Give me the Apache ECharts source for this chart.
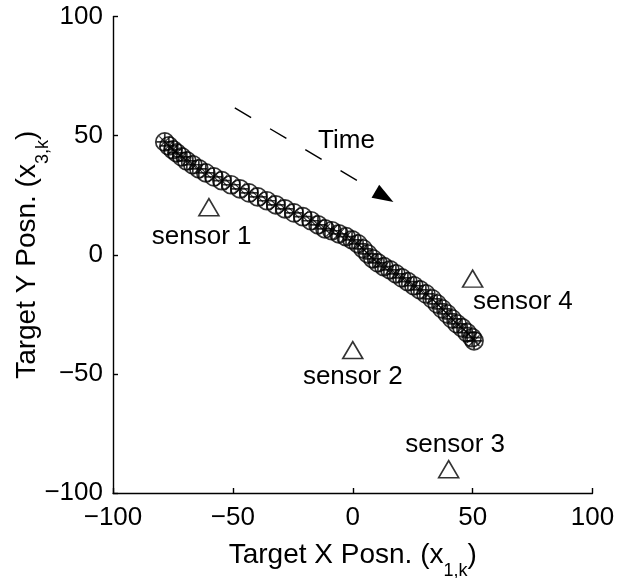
<!DOCTYPE html>
<html>
<head>
<meta charset="utf-8">
<script src="https://cdn.jsdelivr.net/npm/echarts@6/dist/echarts.min.js"></script>
<style>html,body{margin:0;padding:0;background:#fff}#c{width:636px;height:578px}</style>
</head>
<body>
<div id="c"></div>
<script>
// Target track (x1,k , x3,k)
const trackX = [-78.4,-76.7,-75.0,-73.4,-71.3,-69.2,-66.7,-64.2,-61.3,-57.9,-54.6,-50.8,-47.1,-43.3,-39.6,-35.8,-32.1,-28.3,-24.5,-20.8,-17.4,-14.5,-11.6,-8.7,-5.8,-2.8,-0.3,2.2,4.3,6.3,8.4,10.5,13.0,15.5,18.0,20.5,23.0,25.5,28.0,30.5,33.1,35.2,37.3,39.4,41.4,43.5,45.6,47.7,49.8,50.6];
const trackY = [47.4,45.7,44.1,42.8,41.1,39.4,37.8,36.1,34.4,32.7,31.1,29.4,27.7,26.0,24.3,22.7,21.0,19.3,17.6,16.0,14.3,12.6,10.9,10.1,8.8,7.6,6.3,4.6,2.5,0.4,-1.7,-3.4,-5.0,-6.3,-8.0,-9.7,-11.3,-13.0,-14.7,-16.4,-18.5,-20.6,-22.7,-24.8,-26.9,-29.0,-30.6,-32.7,-34.8,-36.1];
// Sensors
const sensorX = [-60, 0, 40, 50];
const sensorY = [20, -40, -90, -10];
const sensorNames = ['sensor 1', 'sensor 2', 'sensor 3', 'sensor 4'];
const sensorLabelX = [-63, 0, 42.7, 71];
const sensorLabelY = [7.6, -51.2, -79.7, -19.7];
// Time arrow annotation
const arrowFrom = [-49.2, 61.7];
const arrowTo = [13.2, 24.4];
const timeText = 'Time';
const timePos = [-2.6, 47.8];
// Axes
const axisMin = -100, axisMax = 100, axisStep = 50;
const xTitle = ['Target X Posn. (x', '1,k', ')'];
const yTitle = ['Target Y Posn. (x', '3,k', ')'];

const FONT = 'Liberation Sans, Arial, Helvetica, sans-serif';
const fmt = v => String(v).replace('-', '\u2212');
const circlePlus = 'path://M0,10 A10,10 0 1,1 20,10 A10,10 0 1,1 0,10 Z M10,0 L10,20 M0,10 L20,10';
const xMark = 'path://M0,0 L20,20 M20,0 L0,20';
const tri = 'path://M10,0 L20,17 L0,17 Z';
const arrowHead = 'path://M7,0 L14,20 L0,20 Z';

const rich = {
  a: {fontSize: 28, fontFamily: FONT, color: '#000'},
  s: {fontSize: 18, fontFamily: FONT, color: '#000', padding: [32, 0, 0, 0]}
};

const chart = echarts.init(document.getElementById('c'), null, {renderer: 'canvas'});
chart.setOption({
  animation: false,
  backgroundColor: '#fff',
  grid: {left: 113, right: 43.5, top: 16.6, bottom: 85, containLabel: false, outerBoundsMode: 'none'},
  xAxis: {
    type: 'value', min: axisMin, max: axisMax, interval: axisStep,
    axisLine: {show: true, onZero: false, lineStyle: {color: '#000', width: 1.4}},
    axisTick: {show: true, inside: true, length: 5, lineStyle: {color: '#000', width: 1.4}},
    splitLine: {show: false},
    axisLabel: {color: '#000', fontSize: 26, fontFamily: FONT, margin: 12, formatter: fmt},
    name: '{a|' + xTitle[0] + '}{s|' + xTitle[1] + '}{a|' + xTitle[2] + '}',
    nameLocation: 'middle', nameGap: 37, nameMoveOverlap: false,
    nameTextStyle: {rich: rich}
  },
  yAxis: {
    type: 'value', min: axisMin, max: axisMax, interval: axisStep,
    axisLine: {show: true, onZero: false, lineStyle: {color: '#000', width: 1.4}},
    axisTick: {show: true, inside: true, length: 5, lineStyle: {color: '#000', width: 1.4}},
    splitLine: {show: false},
    axisLabel: {color: '#000', fontSize: 26, fontFamily: FONT, margin: 10, formatter: fmt},
    name: '{a|' + yTitle[0] + '}{s|' + yTitle[1] + '}{a|' + yTitle[2] + '}',
    nameLocation: 'middle', nameGap: 61, nameRotate: 90, nameMoveOverlap: false,
    nameTextStyle: {rich: rich}
  },
  series: [
    {
      type: 'scatter', symbol: circlePlus, symbolSize: 18,
      itemStyle: {color: 'none', borderColor: '#000', borderWidth: 1.7},
      data: trackX.map((x, i) => [x, trackY[i]]), silent: true, z: 3
    },
    {
      type: 'scatter', symbol: xMark, symbolSize: 11,
      itemStyle: {color: 'none', borderColor: '#000', borderWidth: 1.2},
      data: trackX.map((x, i) => [x, trackY[i]]), silent: true, z: 3
    },
    {
      type: 'scatter', symbol: tri, symbolSize: [20, 17],
      itemStyle: {color: 'none', borderColor: '#000', borderWidth: 1.6},
      data: sensorX.map((x, i) => [x, sensorY[i]]), silent: true, z: 3
    },
    {
      type: 'scatter', symbol: 'circle', symbolSize: 1,
      itemStyle: {color: 'rgba(0,0,0,0)'},
      label: {show: true, position: 'inside', formatter: p => p.value[2], color: '#000',
        fontSize: 26, fontFamily: FONT, textBorderWidth: 0, textBorderColor: 'transparent', opacity: 1},
      labelLayout: {hideOverlap: false},
      data: sensorLabelX.map((x, i) => [x, sensorLabelY[i], sensorNames[i]])
        .concat([[timePos[0], timePos[1], timeText]]),
      silent: true, z: 4,
      markLine: {
        silent: true, animation: false,
        symbol: ['none', arrowHead], symbolSize: [15, 21],
        label: {show: false},
        lineStyle: {color: '#000', width: 1.4, type: [19, 22]},
        itemStyle: {color: '#000'},
        data: [[{coord: arrowFrom}, {coord: arrowTo}]]
      }
    }
  ]
});
</script>
</body>
</html>
